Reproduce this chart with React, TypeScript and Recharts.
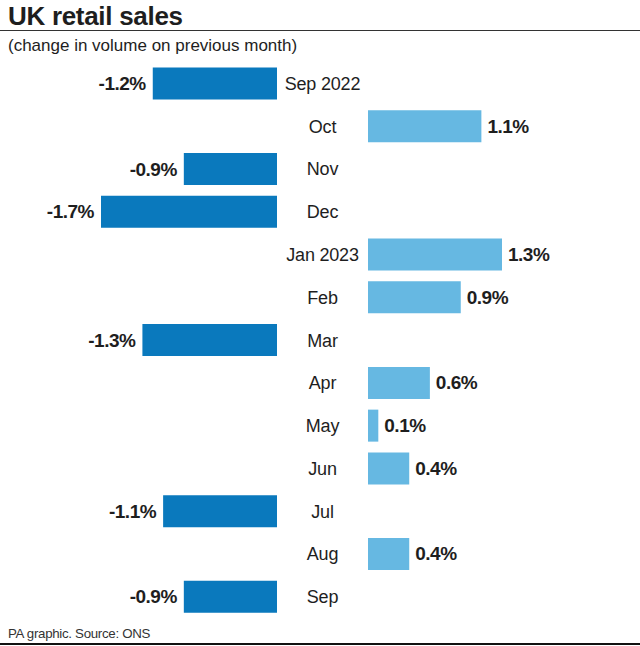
import { BarChart, Bar, XAxis, YAxis, LabelList } from 'recharts';

const months = ['Sep 2022', 'Oct', 'Nov', 'Dec', 'Jan 2023', 'Feb', 'Mar', 'Apr', 'May', 'Jun', 'Jul', 'Aug', 'Sep'];
const changes = [-1.2, 1.1, -0.9, -1.7, 1.3, 0.9, -1.3, 0.6, 0.1, 0.4, -1.1, 0.4, -0.9];

const DARK = '#0a79bd';
const LIGHT = '#66b8e2';
const INK = '#1e1e1e';
const FONT = '"Liberation Sans", Arial, sans-serif';

const rows = months.map((m, i) => ({
  month: m,
  neg: changes[i] < 0 ? changes[i] : null,
  pos: changes[i] > 0 ? changes[i] : null,
}));

const fmt = (v: number) => `${v.toFixed(1)}%`;

const TOP = 62.6;
const BOTTOM = 646 - 618.4;

function NegLabel(props: any) {
  const { x, y, width, height, value } = props;
  if (value == null) return null;
  const left = Math.min(x, x + width);
  return (
    <text x={left - 7} y={y + height / 2} textAnchor="end" dominantBaseline="central"
      fontSize={19} fontWeight={700} fill={INK} letterSpacing={-0.5} fontFamily={FONT}>
      {fmt(value)}
    </text>
  );
}

function PosLabel(props: any) {
  const { x, y, width, height, value } = props;
  if (value == null) return null;
  const right = Math.max(x, x + width);
  return (
    <text x={right + 6} y={y + height / 2} textAnchor="start" dominantBaseline="central"
      fontSize={19} fontWeight={700} fill={INK} letterSpacing={-0.5} fontFamily={FONT}>
      {fmt(value)}
    </text>
  );
}

function MonthTick(props: any) {
  const { y, payload } = props;
  return (
    <text x={45.5} y={y} textAnchor="middle" dominantBaseline="central"
      fontSize={18} fill={INK} letterSpacing={-0.2} fontFamily={FONT}>
      {payload.value}
    </text>
  );
}

export default function App() {
  return (
    <div style={{ position: 'relative', width: 640, height: 646, background: '#fff', fontFamily: FONT, color: INK, overflow: 'hidden' }}>
      <style>{'body{margin:0}'}</style>
      <div style={{ position: 'absolute', left: 8, top: 1, fontSize: 26, lineHeight: '30px', fontWeight: 700, letterSpacing: -0.3 }}>
        UK retail sales
      </div>
      <div style={{ position: 'absolute', left: 0, top: 30, width: 640, height: 0, borderTop: '1.5px solid #333' }} />
      <div style={{ position: 'absolute', left: 8, top: 36, fontSize: 17, lineHeight: '20px' }}>
        (change in volume on previous month)
      </div>

      <div style={{ position: 'absolute', left: 0, top: 0 }}>
        <BarChart width={277} height={646} data={rows} layout="vertical"
          margin={{ top: TOP, right: 0, bottom: BOTTOM, left: 101 }}>
          <XAxis type="number" domain={[-1.7, 0]} hide />
          <YAxis type="category" dataKey="month" hide />
          <Bar dataKey="neg" fill={DARK} barSize={32} isAnimationActive={false}>
            <LabelList dataKey="neg" content={NegLabel} />
          </Bar>
        </BarChart>
      </div>

      <div style={{ position: 'absolute', left: 277, top: 0 }}>
        <BarChart width={363} height={646} data={rows} layout="vertical"
          margin={{ top: TOP, right: 138, bottom: BOTTOM, left: 0 }}>
          <XAxis type="number" domain={[0, 1.3]} hide />
          <YAxis type="category" dataKey="month" width={91} axisLine={false} tickLine={false} tick={MonthTick} />
          <Bar dataKey="pos" fill={LIGHT} barSize={32} isAnimationActive={false}>
            <LabelList dataKey="pos" content={PosLabel} />
          </Bar>
        </BarChart>
      </div>

      <div style={{ position: 'absolute', left: 8, top: 626, fontSize: 13.3, lineHeight: '16px', letterSpacing: -0.3, color: '#333' }}>
        PA graphic. Source: ONS
      </div>
      <div style={{ position: 'absolute', left: 0, top: 643, width: 640, height: 0, borderTop: '2px solid #111' }} />
    </div>
  );
}
